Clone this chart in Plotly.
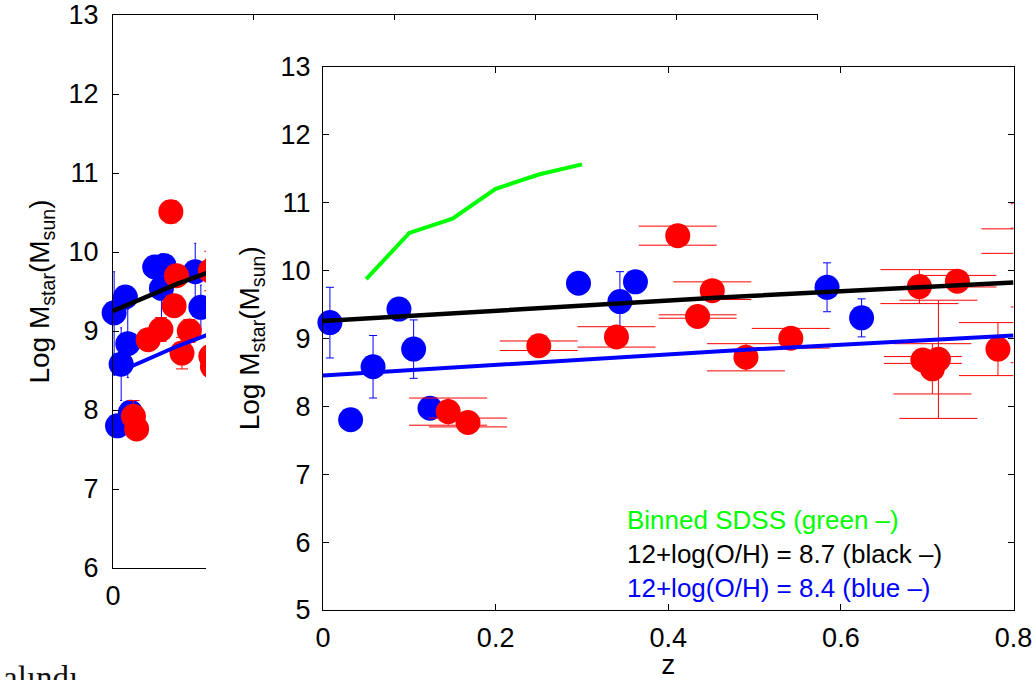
import plotly.graph_objects as go

W, H = 1035, 680
FONT = "Liberation Sans"

# ---------------- data ----------------
blue_z = [0.008, 0.032, 0.058, 0.088, 0.105, 0.124, 0.296, 0.344, 0.362, 0.584, 0.624]
blue_m = [9.23, 7.80, 8.58, 9.43, 8.84, 7.97, 9.81, 9.54, 9.83, 9.75, 9.30]
blue_err = [0.52, 0.0, 0.46, 0.0, 0.43, 0.0, 0.0, 0.44, 0.0, 0.36, 0.28]

red_z = [0.145, 0.168, 0.250, 0.340, 0.411, 0.434, 0.451, 0.490, 0.542,
         0.691, 0.735, 0.695, 0.713, 0.706, 0.782, 0.808, 0.842, 0.842]
red_m = [7.92, 7.76, 8.89, 9.02, 10.51, 9.32, 9.70, 8.72, 9.00,
         9.76, 9.84, 8.68, 8.69, 8.55, 8.84, 10.43, 10.80, 9.05]
red_err = [0.20, 0.065, 0.07, 0.15, 0.14, 0.025, 0.13, 0.20, 0.145,
           0.25, 0.085, 0.05, 0.87, 0.37, 0.39, 0.18, 0.18, 0.41]

sdss_z = [0.05, 0.10, 0.15, 0.20, 0.25, 0.30]
sdss_m = [9.87, 10.55, 10.76, 11.20, 11.41, 11.56]

oh87_z = [0.0, 0.46, 0.8]
oh87_m = [9.255, 9.60, 9.82]
oh84_z = [0.0, 0.46, 0.8]
oh84_m = [8.45, 8.81, 9.04]

front_xticks = [0, 0.2, 0.4, 0.6, 0.8]
front_xtext = ["0", "0.2", "0.4", "0.6", "0.8"]
front_yticks = [5, 6, 7, 8, 9, 10, 11, 12, 13]
back_xticks = [0, 1, 2, 3, 4, 5]
back_yticks = [6, 7, 8, 9, 10, 11, 12, 13]

legend_lines = ["Binned SDSS (green \u2013)",
                "12+log(O/H) = 8.7 (black \u2013)",
                "12+log(O/H) = 8.4 (blue \u2013)"]
legend_colors = ["#00ff00", "#000000", "#0000ff"]

YTITLE = "Log M<sub>star</sub>(M<sub>sun</sub>)"
FRONT_ZMAX = 0.8

# ---------------- layout geometry (pixels) ----------------
def px_x(p):
    return p / W

def px_y(p):
    return 1 - p / H

BACK = dict(x0=113, x1=817, y0=15, y1=568)
COVER = dict(x0=206, y0=20)
FRONT = dict(x0=323, x1=1013.5, y0=66.5, y1=610)

fig = go.Figure()

RED = "#ff0000"
BLUE = "#0000ff"


def add_points(xa, ya, red_cap, blue_cap, front):
    fig.add_trace(go.Scatter(
        x=blue_z, y=blue_m, mode="markers", xaxis=xa, yaxis=ya,
        marker=dict(color=BLUE, size=25, line=dict(width=0)),
        error_y=dict(type="data", array=blue_err, color=BLUE,
                     thickness=1, width=blue_cap),
        cliponaxis=False, showlegend=False, hoverinfo="skip"))
    if front:
        # error bars for every galaxy (clipped to the axes box)
        fig.add_trace(go.Scatter(
            x=red_z, y=red_m, mode="markers", xaxis=xa, yaxis=ya,
            marker=dict(color=RED, size=1, opacity=0),
            error_y=dict(type="data", array=red_err, color=RED,
                         thickness=1, width=red_cap),
            cliponaxis=True, showlegend=False, hoverinfo="skip"))
        idx = [i for i, z in enumerate(red_z) if z <= FRONT_ZMAX]
        fig.add_trace(go.Scatter(
            x=[red_z[i] for i in idx], y=[red_m[i] for i in idx],
            mode="markers", xaxis=xa, yaxis=ya,
            marker=dict(color=RED, size=25, line=dict(width=0)),
            cliponaxis=False, showlegend=False, hoverinfo="skip"))
    else:
        fig.add_trace(go.Scatter(
            x=red_z, y=red_m, mode="markers", xaxis=xa, yaxis=ya,
            marker=dict(color=RED, size=25, line=dict(width=0)),
            error_y=dict(type="data", array=red_err, color=RED,
                         thickness=1, width=red_cap),
            cliponaxis=False, showlegend=False, hoverinfo="skip"))


def add_lines(xa, ya, green):
    if green:
        fig.add_trace(go.Scatter(x=sdss_z, y=sdss_m, mode="lines", xaxis=xa, yaxis=ya,
                                 line=dict(color="#00ff00", width=4),
                                 showlegend=False, hoverinfo="skip"))
    fig.add_trace(go.Scatter(x=oh87_z, y=oh87_m, mode="lines", xaxis=xa, yaxis=ya,
                             line=dict(color="#000000", width=4.5),
                             showlegend=False, hoverinfo="skip"))
    fig.add_trace(go.Scatter(x=oh84_z, y=oh84_m, mode="lines", xaxis=xa, yaxis=ya,
                             line=dict(color=BLUE, width=4),
                             showlegend=False, hoverinfo="skip"))


# back (partly hidden) figure
add_points("x", "y", red_cap=6, blue_cap=1, front=False)
add_lines("x", "y", green=False)

# the white cover panel (an overlapping empty subplot gets its own white background)
fig.add_trace(go.Scatter(x=[None], y=[None], xaxis="x2", yaxis="y2",
                         mode="markers", showlegend=False, hoverinfo="skip"))

# front figure
add_points("x3", "y3", red_cap=39, blue_cap=4, front=True)
add_lines("x3", "y3", green=True)

tickfont = dict(family=FONT, size=27, color="black")
titlefont = dict(family=FONT, size=28, color="black")

common = dict(showgrid=False, zeroline=False, showline=True, linecolor="black",
              linewidth=1, mirror="ticks", ticks="inside", ticklen=6,
              tickcolor="black", tickwidth=1, tickfont=tickfont, automargin=False)

fig.update_layout(
    template="none",
    width=W, height=H,
    margin=dict(l=0, r=0, t=0, b=0, autoexpand=False),
    paper_bgcolor="white", plot_bgcolor="white",
    showlegend=False,
    xaxis=dict(domain=[px_x(BACK["x0"]), px_x(BACK["x1"])], anchor="y",
               range=[0, 5], tickvals=back_xticks, ticklabelstandoff=4, **common),
    yaxis=dict(domain=[px_y(BACK["y1"]), px_y(BACK["y0"])], anchor="x",
               range=[6, 13], tickvals=back_yticks, ticklabelstandoff=8,
               title=dict(text=YTITLE, font=titlefont, standoff=10), **common),
    xaxis2=dict(domain=[px_x(COVER["x0"]), 1.0], anchor="y2", range=[0, 1],
                visible=False, automargin=False),
    yaxis2=dict(domain=[0.0, px_y(COVER["y0"])], anchor="x2", range=[0, 1],
                visible=False, automargin=False),
    xaxis3=dict(domain=[px_x(FRONT["x0"]), px_x(FRONT["x1"])], anchor="y3",
                range=[0, FRONT_ZMAX], tickvals=front_xticks, ticktext=front_xtext,
                ticklabelstandoff=4,
                title=dict(text="z", font=titlefont, standoff=8), **common),
    yaxis3=dict(domain=[px_y(FRONT["y1"]), px_y(FRONT["y0"])], anchor="x3",
                range=[5, 13], tickvals=front_yticks, ticklabelstandoff=6,
                title=dict(text=YTITLE, font=titlefont, standoff=12), **common),
)

for i, (txt, col) in enumerate(zip(legend_lines, legend_colors)):
    fig.add_annotation(x=px_x(625), y=px_y(520 + 34 * i), xref="paper", yref="paper",
                       text=txt, showarrow=False, xanchor="left", yanchor="middle",
                       font=dict(family=FONT, size=26, color=col))

fig.add_annotation(x=px_x(80), y=px_y(658), xref="paper", yref="paper",
                   text="alındı", showarrow=False, xanchor="right", yanchor="top",
                   font=dict(family="Liberation Serif", size=33, color="#111111"))

fig.write_html("out.html", config={"displayModeBar": False},
               post_script="document.body.style.margin='0px';")
